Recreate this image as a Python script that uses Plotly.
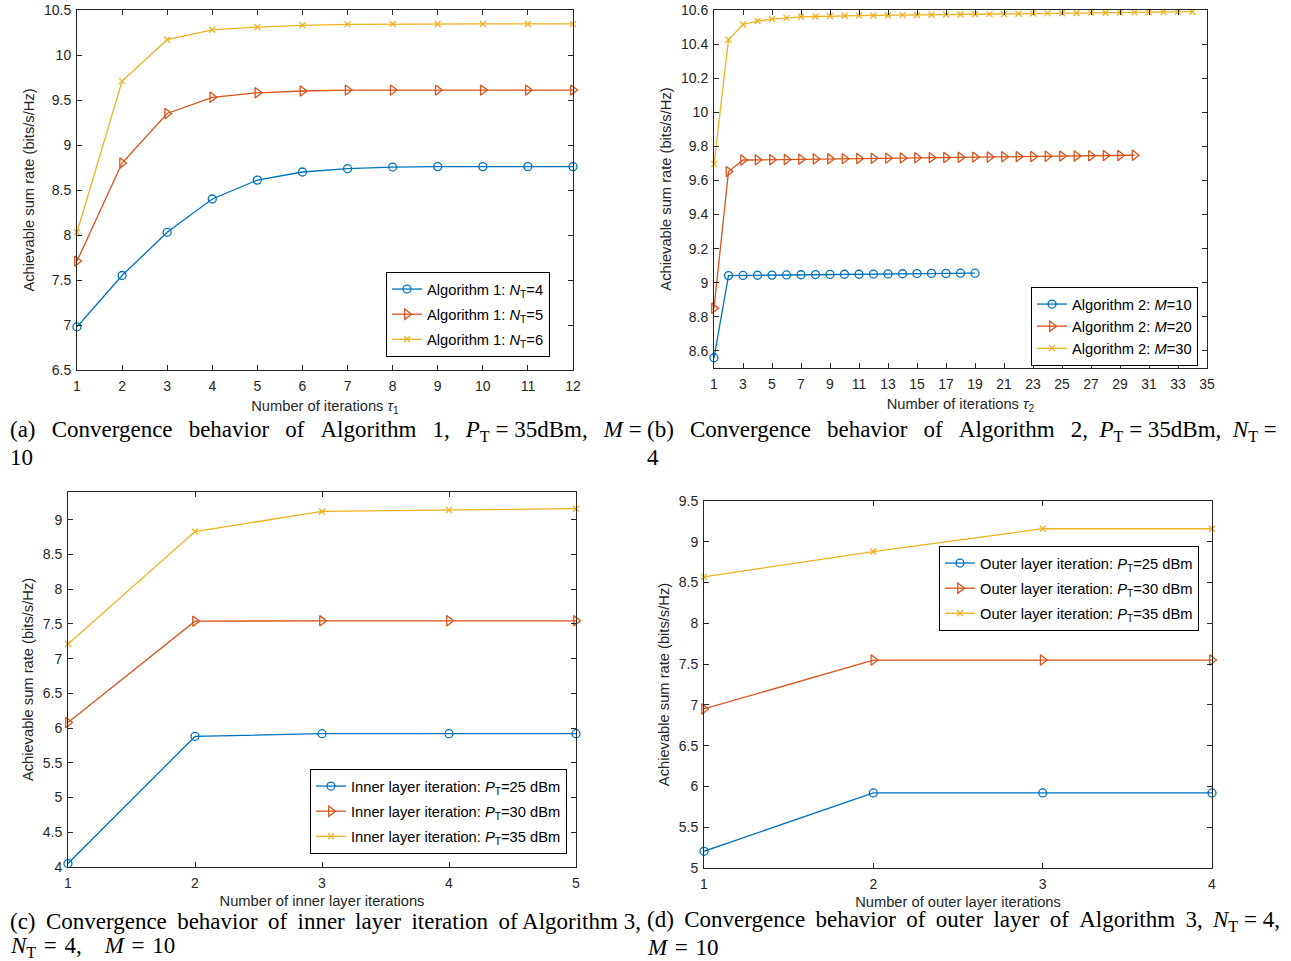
import plotly.graph_objects as go

# ---------------- data ----------------
# (a) Algorithm 1
iters_a = list(range(1, 13))
a_nt4 = [6.98, 7.55, 8.03, 8.40, 8.61, 8.70, 8.737, 8.755, 8.76, 8.76, 8.76, 8.76]
a_nt5 = [7.71, 8.80, 9.35, 9.53, 9.58, 9.60, 9.61, 9.61, 9.61, 9.61, 9.61, 9.61]
a_nt6 = [8.03, 9.71, 10.17, 10.28, 10.31, 10.33, 10.34, 10.344, 10.345, 10.345, 10.345, 10.345]

# (b) Algorithm 2
iters_b_m10 = list(range(1, 20))
b_m10 = [8.56, 9.042, 9.043, 9.044, 9.045, 9.046, 9.047, 9.048, 9.049, 9.050,
         9.050, 9.051, 9.052, 9.053, 9.054, 9.055, 9.055, 9.056, 9.056]
iters_b_m20 = list(range(1, 31))
b_m20 = [8.85, 9.652, 9.720, 9.721, 9.722, 9.723, 9.725, 9.726, 9.727, 9.728,
         9.729, 9.730, 9.731, 9.732, 9.733, 9.734, 9.735, 9.736, 9.737, 9.738,
         9.739, 9.740, 9.741, 9.742, 9.743, 9.744, 9.745, 9.746, 9.747, 9.748]
iters_b_m30 = list(range(1, 35))
b_m30 = [9.696, 10.425, 10.515, 10.535, 10.546, 10.554, 10.560, 10.562, 10.565, 10.566,
         10.567, 10.568, 10.569, 10.570, 10.571, 10.572, 10.573, 10.574, 10.575, 10.576,
         10.577, 10.578, 10.579, 10.580, 10.581, 10.582, 10.583, 10.584, 10.585, 10.586,
         10.587, 10.588, 10.589, 10.590]

# (c) inner layer of Algorithm 3
iters_c = [1, 2, 3, 4, 5]
c_p25 = [4.05, 5.88, 5.92, 5.92, 5.92]
c_p30 = [6.08, 7.54, 7.545, 7.545, 7.545]
c_p35 = [7.21, 8.83, 9.12, 9.14, 9.16]

# (d) outer layer of Algorithm 3
iters_d = [1, 2, 3, 4]
d_p25 = [5.205, 5.92, 5.92, 5.92]
d_p30 = [6.95, 7.55, 7.55, 7.55]
d_p35 = [8.57, 8.88, 9.16, 9.16]

# tick labels
a_yticks = [6.5, 7, 7.5, 8, 8.5, 9, 9.5, 10, 10.5]
a_ytext = ["6.5", "7", "7.5", "8", "8.5", "9", "9.5", "10", "10.5"]
b_yticks = [8.6, 8.8, 9.0, 9.2, 9.4, 9.6, 9.8, 10.0, 10.2, 10.4, 10.6]
b_ytext = ["8.6", "8.8", "9", "9.2", "9.4", "9.6", "9.8", "10", "10.2", "10.4", "10.6"]
b_xticks = list(range(1, 36, 2))
c_yticks = [4, 4.5, 5, 5.5, 6, 6.5, 7, 7.5, 8, 8.5, 9]
c_ytext = ["4", "4.5", "5", "5.5", "6", "6.5", "7", "7.5", "8", "8.5", "9"]
d_yticks = [5, 5.5, 6, 6.5, 7, 7.5, 8, 8.5, 9, 9.5]
d_ytext = ["5", "5.5", "6", "6.5", "7", "7.5", "8", "8.5", "9", "9.5"]

# ---------------- style ----------------
W, H = 1291, 961
BLUE, RED, YEL = "#0072BD", "#D95319", "#EDB120"
AX = "#262626"
SANS = "Liberation Sans, Arial, sans-serif"
SERIF = "Liberation Serif, Times New Roman, serif"
LBL = 14.7
NB = "\u00a0"
TH = "\u2009"
HA = "\u200a"


def px_x(x0, x1):
    return [x0 / W, x1 / W]


def px_y(top, bottom):
    return [1 - bottom / H, 1 - top / H]


def mk(symbol, color, size):
    return dict(symbol=symbol, size=size, color=color,
                line=dict(width=1.3, color=color))


fig = go.Figure()

panels = [
    ([iters_a, iters_a, iters_a], [a_nt4, a_nt5, a_nt6],
     ["Algorithm 1: <i>N</i><sub>T</sub>=4", "Algorithm 1: <i>N</i><sub>T</sub>=5",
      "Algorithm 1: <i>N</i><sub>T</sub>=6"], "", "legend"),
    ([iters_b_m10, iters_b_m20, iters_b_m30], [b_m10, b_m20, b_m30],
     ["Algorithm 2: <i>M</i>=10", "Algorithm 2: <i>M</i>=20", "Algorithm 2: <i>M</i>=30"],
     "2", "legend2"),
    ([iters_c, iters_c, iters_c], [c_p25, c_p30, c_p35],
     ["Inner layer iteration: <i>P</i><sub>T</sub>=25 dBm",
      "Inner layer iteration: <i>P</i><sub>T</sub>=30 dBm",
      "Inner layer iteration: <i>P</i><sub>T</sub>=35 dBm"], "3", "legend3"),
    ([iters_d, iters_d, iters_d], [d_p25, d_p30, d_p35],
     ["Outer layer iteration: <i>P</i><sub>T</sub>=25 dBm",
      "Outer layer iteration: <i>P</i><sub>T</sub>=30 dBm",
      "Outer layer iteration: <i>P</i><sub>T</sub>=35 dBm"], "4", "legend4"),
]

styles = [(BLUE, "circle-open", 8), (RED, "triangle-right-open", 9), (YEL, "x-thin", 6)]

for pi, (xs, ys, names, suf, leg) in enumerate(panels):
    for k in range(3):
        col, sym, sz = styles[k]
        fig.add_trace(go.Scatter(
            x=xs[k], y=ys[k], mode="lines+markers", name=names[k],
            line=dict(color=col, width=1.3), marker=mk(sym, col, sz),
            xaxis="x" + suf, yaxis="y" + suf, legend=leg, cliponaxis=False,
            legendgroup=f"g{pi}{k}", showlegend=True,
        ))


def xax(domain, rng, tickvals, title, anchor, standoff=7):
    return dict(domain=domain, range=rng, tickvals=tickvals, anchor=anchor,
                showline=True, linecolor=AX, linewidth=1, mirror="ticks",
                ticks="inside", ticklen=5, tickcolor=AX, tickwidth=1,
                ticklabelstandoff=3,
                showgrid=False, zeroline=False, automargin=False,
                tickfont=dict(family=SANS, size=14, color=AX),
                title=dict(text=title, standoff=standoff,
                           font=dict(family=SANS, size=LBL, color=AX)))


def yax(domain, rng, tickvals, ticktext, anchor, standoff=5):
    return dict(domain=domain, range=rng, tickvals=tickvals, ticktext=ticktext,
                anchor=anchor, showline=True, linecolor=AX, linewidth=1,
                mirror="ticks", ticks="inside", ticklen=5, tickcolor=AX,
                tickwidth=1, ticklabelstandoff=2,
                showgrid=False, zeroline=False, automargin=False,
                tickfont=dict(family=SANS, size=14, color=AX),
                title=dict(text="Achievable sum rate (bits/s/Hz)", standoff=standoff,
                           font=dict(family=SANS, size=LBL, color=AX)))


def legend(xp, yp, gap, anchor):
    return dict(x=xp / W, y=1 - yp / H, xanchor="left", yanchor=anchor,
                xref="paper", yref="paper", bgcolor="white",
                bordercolor="#000000", borderwidth=1,
                font=dict(family=SANS, size=LBL, color="#000000"),
                tracegroupgap=gap, itemclick=False)


fig.update_layout(
    width=W, height=H, margin=dict(l=0, r=0, t=0, b=0),
    paper_bgcolor="white", plot_bgcolor="white",
    xaxis=xax(px_x(77, 573), [1, 12], iters_a, "Number of iterations <i>τ</i><sub>1</sub>", "y"),
    yaxis=yax(px_y(10, 370), [6.5, 10.5], a_yticks, a_ytext, "x"),
    xaxis2=xax(px_x(714, 1207), [1, 35], b_xticks, "Number of iterations <i>τ</i><sub>2</sub>", "y2"),
    yaxis2=yax(px_y(10, 368), [8.5, 10.6], b_yticks, b_ytext, "x2"),
    xaxis3=xax(px_x(68, 576), [1, 5], iters_c, "Number of inner layer iterations", "y3", 5),
    yaxis3=yax(px_y(492, 867), [4, 9.4], c_yticks, c_ytext, "x3"),
    xaxis4=xax(px_x(704, 1212), [1, 4], iters_d, "Number of outer layer iterations", "y4", 5),
    yaxis4=yax(px_y(501, 868), [5, 9.5], d_yticks, d_ytext, "x4"),
    legend=legend(386, 357, 3, "bottom"),
    legend2=legend(1031, 366, 0, "bottom"),
    legend3=legend(310, 854, 3, "bottom"),
    legend4=legend(939, 546, 3, "top"),
)


def just(s, extra):
    # widen word gaps to mimic the justified caption lines
    return s.replace(" ", " " + extra)


G2 = NB + TH          # wide extra gap
EQ = " = "
MEQ = NB + TH + "=" + NB + TH      # math-style spacing round "="
MEQ2 = NB + HA + "=" + NB + HA
captions = [
    (8, 431, just("(a) Convergence behavior of Algorithm 1,", G2) + " " + G2
     + "<i>P</i><sub>T</sub>" + EQ + "35dBm," + G2 + " <i>M</i>" + EQ.rstrip()),
    (8, 457, "10"),
    (645, 431, just("(b) Convergence behavior of Algorithm 2,", G2) + " " + NB
     + "<i>P</i><sub>T</sub>" + EQ + "35dBm," + NB + " <i>N</i><sub>T</sub>" + EQ.rstrip()),
    (645, 457, "4"),
    (8, 921, just("(c) Convergence behavior of inner layer iteration of", TH)
     + " Algorithm 3,"),
    (8, 947, "<i>N</i><sub>T</sub>" + MEQ2 + "4," + NB * 4 + "<i>M</i>" + MEQ2 + "10"),
    (645, 921, just("(d) Convergence behavior of outer layer of Algorithm 3,", TH) + TH
     + " <i>N</i><sub>T</sub>" + EQ + "4,"),
    (645, 947, "<i>M</i>" + MEQ2 + "10"),
]
for (xp, yp, txt) in captions:
    fig.add_annotation(x=xp / W, y=1 - yp / H, xref="paper", yref="paper",
                       xanchor="left", yanchor="middle", text=txt, showarrow=False,
                       font=dict(family=SERIF, size=23, color="#000000"))

fig.write_html(
    "out.html",
    config={"displayModeBar": False},
    post_script="document.body.style.margin='0';document.body.style.overflow='hidden';",
)
